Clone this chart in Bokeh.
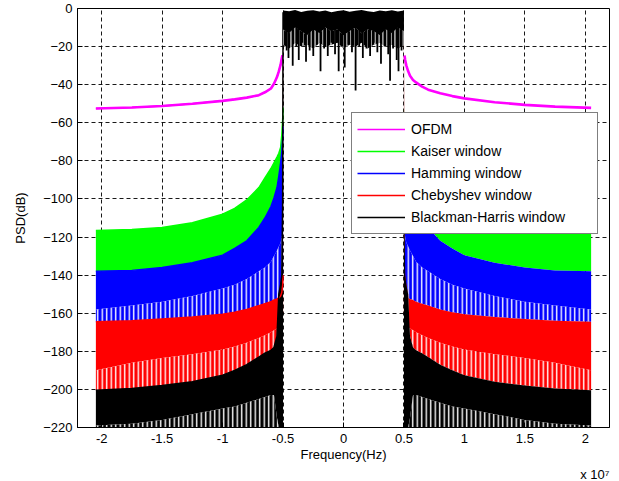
from bokeh.plotting import figure
from bokeh.models import (Range1d, FixedTicker, Legend, LegendItem, Title,
                          ColumnDataSource)
from bokeh.embed import file_html
from bokeh.resources import INLINE

# ---------------------------------------------------------------------------
# Power spectral density of an OFDM signal with different windows.
# Frequencies are in units of 1e7 Hz, PSD values in dB.
# ---------------------------------------------------------------------------

# x-axis ticks and their labels (axis is scaled by 10^7)
x_ticks = [-2, -1.5, -1, -0.5, 0, 0.5, 1, 1.5, 2]
x_tick_labels = ["-2", "-1.5", "-1", "-0.5", "0", "0.5", "1", "1.5", "2"]
y_ticks = [0, -20, -40, -60, -80, -100, -120, -140, -160, -180, -200, -220]

# Plain OFDM spectrum outside the occupied band
f_ofdm = [0.505, 0.51, 0.52, 0.535, 0.55, 0.575, 0.6, 0.65, 0.7, 0.8, 0.9,
          1.0, 1.25, 1.5, 1.75, 2.048]
ofdm_left = [-24.5, -26.0, -29.5, -33.0, -36.0, -39.5, -42.0, -44.0, -45.5,
             -46.8, -47.7, -48.5, -50.0, -51.2, -52.0, -52.5]
ofdm_right = [-24.7, -27.0, -30.0, -33.0, -35.3, -37.5, -38.8, -41.0, -42.6,
              -44.5, -46.0, -47.2, -49.2, -50.6, -51.5, -52.2]

# Out-of-band envelopes of the windowed spectra (same on both sides)
f_side = [0.5, 0.503, 0.51, 0.52, 0.535, 0.55, 0.575, 0.6, 0.65, 0.7, 0.8,
          0.9, 1.0, 1.25, 1.5, 1.75, 2.048]
kaiser_top = [-52, -58, -66, -73, -76, -78, -81, -84, -89, -94, -100.5,
              -105, -108, -112.5, -115, -116, -116.5]
hamming_top = [-62, -68, -75, -81, -88, -94, -99.5, -104, -110, -115, -122,
               -126, -129.5, -133.5, -136, -137.5, -138]
hamming_floor = [-110, -115, -120, -123, -125, -127, -130, -133, -136, -138,
                 -142, -145, -147, -151, -154, -156, -158]
cheb_top = [-140, -145, -149, -151, -152, -152.5, -153, -154, -155, -156,
            -158, -159.5, -160.5, -162, -163, -164, -164.5]
cheb_floor = [-160, -163, -165, -166, -167, -168, -169, -170, -171.5, -173,
              -175.5, -177.5, -179, -181.5, -183.5, -186, -190]
bh_top = [-2, -100, -140, -145, -150, -172, -178, -179.5, -181, -183, -187,
          -190, -192.5, -196, -198, -199.5, -200.5]
bh_floor = [-220, -220, -220, -220, -220, -215, -203, -203, -204, -205, -207,
            -209, -210, -213, -216, -218, -219]

# In-band Blackman-Harris spectrum
f_in = [-0.5, -0.45, -0.4, -0.35, -0.3, -0.25, -0.2, -0.15, -0.1, -0.05, 0.0,
        0.05, 0.1, 0.15, 0.2, 0.25, 0.3, 0.35, 0.4, 0.45, 0.5]
inband_top = [-1.0, -1.5, -0.8, -1.8, -1.2, -0.9, -1.6, -1.1, -2.0, -1.3, -0.9,
              -1.7, -1.2, -0.8, -1.5, -1.9, -1.0, -1.4, -0.9, -1.6, -1.0]
inband_floor = [-11, -13, -10, -12, -14, -11, -13, -10, -12, -11, -14,
                -12, -10, -13, -11, -12, -14, -11, -13, -10, -12]
inband_spread = [-19, -21, -18, -20, -19, -21, -18, -20, -19, -18, -21,
                 -19, -20, -18, -21, -19, -18, -20, -19, -21, -19]
spike_f = [-0.47, -0.455, -0.42, -0.39, -0.37, -0.34, -0.31, -0.28, -0.25,
           -0.22, -0.19, -0.16, -0.13, -0.10, -0.07, -0.04, -0.01, 0.01, 0.04,
           0.07, 0.10, 0.13, 0.16, 0.19, 0.22, 0.25, 0.28, 0.31, 0.34, 0.37,
           0.385, 0.41, 0.44, 0.455, 0.48]
spike_db = [-22, -26, -30, -20, -27, -18, -28, -22, -25, -19, -33, -21, -25,
            -18, -24, -33, -20, -31, -19, -23, -43, -20, -26, -21, -25, -18,
            -23, -29, -20, -24, -38, -21, -27, -33, -22]

series_names = ["OFDM", "Kaiser window", "Hamming window", "Chebyshev window",
                "Blackman-Harris window"]
series_colors = ["#FF00FF", "#00FF00", "#0000FF", "#FF0000", "#000000"]
MAGENTA, GREEN, BLUE, RED, BLACK = series_colors

FONT = "Liberation Sans"

p = figure(width=619, height=481, output_backend="svg", toolbar_location=None,
           x_range=Range1d(-2.2, 2.2), y_range=Range1d(-220, 0),
           min_border_left=77, min_border_right=10, min_border_top=8,
           min_border_bottom=54)
p.background_fill_color = "white"
p.border_fill_color = "white"
p.outline_line_color = "black"
p.outline_line_width = 1

# --- OFDM curve ------------------------------------------------------------
# thin trace (legend sample) under the wider visible trace
ofdm_thin = p.line([-f for f in f_ofdm], ofdm_left, line_color=MAGENTA,
                   line_width=1.5)
p.line([-f for f in f_ofdm], ofdm_left, line_color=MAGENTA, line_width=2.6)
p.line(f_ofdm, ofdm_right, line_color=MAGENTA, line_width=2.6)
legend_renderers = [ofdm_thin]

# --- windowed spectra, drawn as envelopes on each side ----------------------
hatch = dict(hatch_pattern="vertical_line", hatch_color="white",
             hatch_weight=1.4, hatch_scale=4.5)

for sign in (-1, 1):
    src = ColumnDataSource(dict(
        x=[sign * f for f in f_side],
        kaiser_top=kaiser_top, hamming_top=hamming_top,
        hamming_floor=hamming_floor, cheb_top=cheb_top,
        cheb_floor=cheb_floor, bh_top=bh_top, bh_floor=bh_floor,
        bottom=[-222] * len(f_side)))
    p.varea(x="x", y1="kaiser_top", y2="hamming_top", source=src,
            fill_color=GREEN)
    p.varea(x="x", y1="hamming_top", y2="hamming_floor", source=src,
            fill_color=BLUE)
    p.varea(x="x", y1="hamming_floor", y2="cheb_top", source=src,
            fill_color=BLUE, **hatch)
    p.varea(x="x", y1="cheb_top", y2="cheb_floor", source=src,
            fill_color=RED)
    p.varea(x="x", y1="cheb_floor", y2="bh_top", source=src,
            fill_color=RED, **hatch)
    p.varea(x="x", y1="bh_top", y2="bh_floor", source=src,
            fill_color=BLACK)
    p.varea(x="x", y1="bh_floor", y2="bottom", source=src,
            fill_color=BLACK, **hatch)
    if sign < 0:
        # upper edge of each windowed spectrum, used as legend sample
        for col, color in zip(("kaiser_top", "hamming_top", "cheb_top",
                               "bh_top"), series_colors[1:]):
            legend_renderers.append(
                p.line(x="x", y=col, source=src, line_color=color,
                       line_width=1.5))

# --- in-band part -----------------------------------------------------------
p.varea(x=f_in, y1=inband_top, y2=inband_floor, fill_color=BLACK)
p.varea(x=f_in, y1=inband_floor, y2=inband_spread, fill_color=BLACK,
        hatch_pattern="vertical_line", hatch_color="white",
        hatch_weight=1.2, hatch_scale=4)
p.segment(x0=spike_f, y0=[-8] * len(spike_f), x1=spike_f, y1=spike_db,
          line_color=BLACK, line_width=1.8)

# --- axes -------------------------------------------------------------------
xt = FixedTicker(ticks=x_ticks, minor_ticks=[])
yt = FixedTicker(ticks=y_ticks, minor_ticks=[])

for ax in (p.xaxis[0], p.yaxis[0]):
    ax.major_tick_in = 5
    ax.major_tick_out = 0
    ax.minor_tick_in = 0
    ax.minor_tick_out = 0
    ax.axis_line_color = "black"
    ax.major_tick_line_color = "black"
    ax.major_label_text_font = FONT
    ax.major_label_text_font_size = "13px"
    ax.major_label_text_color = "black"
    ax.axis_label_text_font = FONT
    ax.axis_label_text_font_size = "13px"
    ax.axis_label_text_font_style = "normal"
    ax.axis_label_text_color = "black"

p.xaxis[0].ticker = xt
p.xaxis[0].major_label_overrides = dict(zip(x_ticks, x_tick_labels))
p.xaxis[0].axis_label = "Frequency(Hz)"
p.xaxis[0].major_label_standoff = 6
p.xaxis[0].axis_label_standoff = 1

p.yaxis[0].ticker = yt
p.yaxis[0].axis_label = "PSD(dB)"
p.yaxis[0].major_label_standoff = 5
p.yaxis[0].axis_label_standoff = 12

p.xgrid.ticker = xt
p.ygrid.ticker = yt
for gr in (p.xgrid[0], p.ygrid[0]):
    gr.grid_line_color = "black"
    gr.grid_line_dash = "4 3"
    gr.grid_line_width = 1
    gr.grid_line_alpha = 0.9

# axis multiplier under the right end of the x axis
p.add_layout(Title(text="x 10\u2077", align="right", text_font=FONT,
                   text_font_size="13px", text_font_style="normal",
                   text_color="black", standoff=0, offset=0), "below")

# --- legend -----------------------------------------------------------------
items = [LegendItem(label=name, renderers=[rr])
         for name, rr in zip(series_names, legend_renderers)]

legend = Legend(items=items, location=(274, 193), glyph_width=48,
                glyph_height=22, label_height=22, label_width=181,
                label_standoff=6, spacing=0, padding=5, margin=0,
                label_text_font=FONT, label_text_font_size="14px",
                label_text_color="black", border_line_color="black",
                border_line_width=1, background_fill_color="white",
                background_fill_alpha=1.0)
p.add_layout(legend)

open("out.html", "w").write(file_html(p, INLINE))
